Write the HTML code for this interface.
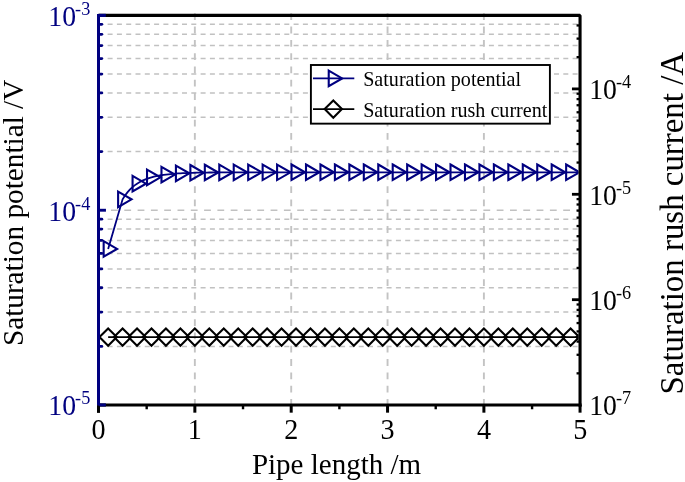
<!DOCTYPE html>
<html><head><meta charset="utf-8"><title>chart</title>
<style>html,body{margin:0;padding:0;background:#fff;}svg{display:block;will-change:transform;}text{font-family:"Liberation Serif",serif;}</style>
</head><body>
<svg width="685" height="482" viewBox="0 0 685 482">
<rect width="685" height="482" fill="#fff"/>
<g stroke="#c1c1c1" stroke-width="1.5" fill="none">
<line x1="98.3" x2="580.05" y1="151.58" y2="151.58" stroke-dasharray="5 4.3"/>
<line x1="98.3" x2="580.05" y1="117.28" y2="117.28" stroke-dasharray="5 4.3"/>
<line x1="98.3" x2="580.05" y1="92.93" y2="92.93" stroke-dasharray="5 4.3"/>
<line x1="98.3" x2="580.05" y1="74.05" y2="74.05" stroke-dasharray="5 4.3"/>
<line x1="98.3" x2="580.05" y1="58.62" y2="58.62" stroke-dasharray="5 4.3"/>
<line x1="98.3" x2="580.05" y1="45.58" y2="45.58" stroke-dasharray="5 4.3"/>
<line x1="98.3" x2="580.05" y1="34.28" y2="34.28" stroke-dasharray="5 4.3"/>
<line x1="98.3" x2="580.05" y1="24.32" y2="24.32" stroke-dasharray="5 4.3"/>
<line x1="98.3" x2="580.05" y1="346.42" y2="346.42" stroke-dasharray="5 4.3"/>
<line x1="98.3" x2="580.05" y1="312.11" y2="312.11" stroke-dasharray="5 4.3"/>
<line x1="98.3" x2="580.05" y1="287.77" y2="287.77" stroke-dasharray="5 4.3"/>
<line x1="98.3" x2="580.05" y1="268.89" y2="268.89" stroke-dasharray="5 4.3"/>
<line x1="98.3" x2="580.05" y1="253.46" y2="253.46" stroke-dasharray="5 4.3"/>
<line x1="98.3" x2="580.05" y1="240.42" y2="240.42" stroke-dasharray="5 4.3"/>
<line x1="98.3" x2="580.05" y1="229.12" y2="229.12" stroke-dasharray="5 4.3"/>
<line x1="98.3" x2="580.05" y1="219.15" y2="219.15" stroke-dasharray="5 4.3"/>
<line x1="97.7" x2="580.05" y1="210.24" y2="210.24" stroke-dasharray="6.8 6.5"/>
<line x1="194.85" x2="194.85" y1="13.3" y2="405.07" stroke-dasharray="6.8 6.5" stroke-width="1.9" stroke="#c3c3c3"/>
<line x1="291.20" x2="291.20" y1="13.3" y2="405.07" stroke-dasharray="6.8 6.5" stroke-width="1.9" stroke="#c3c3c3"/>
<line x1="387.55" x2="387.55" y1="13.3" y2="405.07" stroke-dasharray="6.8 6.5" stroke-width="1.9" stroke="#c3c3c3"/>
<line x1="483.90" x2="483.90" y1="13.3" y2="405.07" stroke-dasharray="6.8 6.5" stroke-width="1.9" stroke="#c3c3c3"/>
</g>
<clipPath id="c"><rect x="98.5" y="15.4" width="479.95" height="389.67"/></clipPath>
<g clip-path="url(#c)">
<polyline fill="none" stroke="#000080" stroke-width="1.8" points="108.14,248.90 122.59,199.35 125.00,195.56 127.41,192.37 129.81,189.66 132.22,187.35 134.63,185.37 137.04,183.67 139.45,182.20 141.86,180.93 144.27,179.83 146.68,178.88 149.08,178.05 151.49,177.33 153.90,176.70 156.31,176.15 158.72,175.67 161.13,175.25 163.54,174.88 165.95,174.56 168.35,174.28 170.76,174.04 173.17,173.82 175.58,173.63 177.99,173.47 180.40,173.32 182.81,173.20 185.22,173.08 187.62,172.99 190.03,172.90 192.44,172.83 194.85,172.76 197.26,172.70 199.67,172.65 202.08,172.61 204.49,172.57 206.89,172.53 209.30,172.50 211.71,172.48 214.12,172.45 216.53,172.43 218.94,172.41 221.35,172.40 223.75,172.38 226.16,172.37 228.57,172.36 230.98,172.35 233.39,172.34 235.80,172.34 238.21,172.33 240.62,172.32 243.02,172.32 245.43,172.31 247.84,172.31 250.25,172.31 252.66,172.30 255.07,172.30 257.48,172.30 259.89,172.30 262.29,172.30 264.70,172.29 267.11,172.29 269.52,172.29 271.93,172.29 274.34,172.29 276.75,172.29 279.16,172.29 281.56,172.29 283.97,172.29 286.38,172.29 288.79,172.29 291.20,172.29 293.61,172.29 296.02,172.28 298.43,172.28 300.83,172.28 303.24,172.28 305.65,172.28 308.06,172.28 310.47,172.28 312.88,172.28 315.29,172.28 317.70,172.28 320.10,172.28 322.51,172.28 324.92,172.28 327.33,172.28 329.74,172.28 332.15,172.28 334.56,172.28 336.97,172.28 339.37,172.28 341.78,172.28 344.19,172.28 346.60,172.28 349.01,172.28 351.42,172.28 353.83,172.28 356.24,172.28 358.64,172.28 361.05,172.28 363.46,172.28 365.87,172.28 368.28,172.28 370.69,172.28 373.10,172.28 375.51,172.28 377.91,172.28 380.32,172.28 382.73,172.28 385.14,172.28 387.55,172.28 389.96,172.28 392.37,172.28 394.78,172.28 397.18,172.28 399.59,172.28 402.00,172.28 404.41,172.28 406.82,172.28 409.23,172.28 411.64,172.28 414.05,172.28 416.45,172.28 418.86,172.28 421.27,172.28 423.68,172.28 426.09,172.28 428.50,172.28 430.91,172.28 433.32,172.28 435.72,172.28 438.13,172.28 440.54,172.28 442.95,172.28 445.36,172.28 447.77,172.28 450.18,172.28 452.59,172.28 454.99,172.28 457.40,172.28 459.81,172.28 462.22,172.28 464.63,172.28 467.04,172.28 469.45,172.28 471.86,172.28 474.26,172.28 476.67,172.28 479.08,172.28 481.49,172.28 483.90,172.28 486.31,172.28 488.72,172.28 491.13,172.28 493.53,172.28 495.94,172.28 498.35,172.28 500.76,172.28 503.17,172.28 505.58,172.28 507.99,172.28 510.40,172.28 512.80,172.28 515.21,172.28 517.62,172.28 520.03,172.28 522.44,172.28 524.85,172.28 527.26,172.28 529.67,172.28 532.07,172.28 534.48,172.28 536.89,172.28 539.30,172.28 541.71,172.28 544.12,172.28 546.53,172.28 548.94,172.28 551.35,172.28 553.75,172.28 556.16,172.28 558.57,172.28 560.98,172.28 563.39,172.28 565.80,172.28 568.21,172.28 570.62,172.28 573.02,172.28 575.43,172.28 577.84,172.28 580.25,172.28"/>
<path d="M103.66 241.15L117.08 248.90L103.66 256.65Z" fill="none" stroke="#000080" stroke-width="2.1" stroke-linejoin="miter"/>
<path d="M118.11 191.60L131.54 199.35L118.11 207.10Z" fill="none" stroke="#000080" stroke-width="2.1" stroke-linejoin="miter"/>
<path d="M132.57 175.92L145.99 183.67L132.57 191.42Z" fill="none" stroke="#000080" stroke-width="2.1" stroke-linejoin="miter"/>
<path d="M147.02 169.58L160.44 177.33L147.02 185.08Z" fill="none" stroke="#000080" stroke-width="2.1" stroke-linejoin="miter"/>
<path d="M161.47 166.81L174.89 174.56L161.47 182.31Z" fill="none" stroke="#000080" stroke-width="2.1" stroke-linejoin="miter"/>
<path d="M175.92 165.57L189.35 173.32L175.92 181.07Z" fill="none" stroke="#000080" stroke-width="2.1" stroke-linejoin="miter"/>
<path d="M190.38 165.01L203.80 172.76L190.38 180.51Z" fill="none" stroke="#000080" stroke-width="2.1" stroke-linejoin="miter"/>
<path d="M204.83 164.75L218.25 172.50L204.83 180.25Z" fill="none" stroke="#000080" stroke-width="2.1" stroke-linejoin="miter"/>
<path d="M219.28 164.63L232.70 172.38L219.28 180.13Z" fill="none" stroke="#000080" stroke-width="2.1" stroke-linejoin="miter"/>
<path d="M233.73 164.58L247.16 172.33L233.73 180.08Z" fill="none" stroke="#000080" stroke-width="2.1" stroke-linejoin="miter"/>
<path d="M248.19 164.55L261.61 172.30L248.19 180.05Z" fill="none" stroke="#000080" stroke-width="2.1" stroke-linejoin="miter"/>
<path d="M262.64 164.54L276.06 172.29L262.64 180.04Z" fill="none" stroke="#000080" stroke-width="2.1" stroke-linejoin="miter"/>
<path d="M277.09 164.54L290.51 172.29L277.09 180.04Z" fill="none" stroke="#000080" stroke-width="2.1" stroke-linejoin="miter"/>
<path d="M291.54 164.53L304.97 172.28L291.54 180.03Z" fill="none" stroke="#000080" stroke-width="2.1" stroke-linejoin="miter"/>
<path d="M306.00 164.53L319.42 172.28L306.00 180.03Z" fill="none" stroke="#000080" stroke-width="2.1" stroke-linejoin="miter"/>
<path d="M320.45 164.53L333.87 172.28L320.45 180.03Z" fill="none" stroke="#000080" stroke-width="2.1" stroke-linejoin="miter"/>
<path d="M334.90 164.53L348.32 172.28L334.90 180.03Z" fill="none" stroke="#000080" stroke-width="2.1" stroke-linejoin="miter"/>
<path d="M349.35 164.53L362.78 172.28L349.35 180.03Z" fill="none" stroke="#000080" stroke-width="2.1" stroke-linejoin="miter"/>
<path d="M363.81 164.53L377.23 172.28L363.81 180.03Z" fill="none" stroke="#000080" stroke-width="2.1" stroke-linejoin="miter"/>
<path d="M378.26 164.53L391.68 172.28L378.26 180.03Z" fill="none" stroke="#000080" stroke-width="2.1" stroke-linejoin="miter"/>
<path d="M392.71 164.53L406.13 172.28L392.71 180.03Z" fill="none" stroke="#000080" stroke-width="2.1" stroke-linejoin="miter"/>
<path d="M407.16 164.53L420.59 172.28L407.16 180.03Z" fill="none" stroke="#000080" stroke-width="2.1" stroke-linejoin="miter"/>
<path d="M421.62 164.53L435.04 172.28L421.62 180.03Z" fill="none" stroke="#000080" stroke-width="2.1" stroke-linejoin="miter"/>
<path d="M436.07 164.53L449.49 172.28L436.07 180.03Z" fill="none" stroke="#000080" stroke-width="2.1" stroke-linejoin="miter"/>
<path d="M450.52 164.53L463.94 172.28L450.52 180.03Z" fill="none" stroke="#000080" stroke-width="2.1" stroke-linejoin="miter"/>
<path d="M464.97 164.53L478.40 172.28L464.97 180.03Z" fill="none" stroke="#000080" stroke-width="2.1" stroke-linejoin="miter"/>
<path d="M479.43 164.53L492.85 172.28L479.43 180.03Z" fill="none" stroke="#000080" stroke-width="2.1" stroke-linejoin="miter"/>
<path d="M493.88 164.53L507.30 172.28L493.88 180.03Z" fill="none" stroke="#000080" stroke-width="2.1" stroke-linejoin="miter"/>
<path d="M508.33 164.53L521.75 172.28L508.33 180.03Z" fill="none" stroke="#000080" stroke-width="2.1" stroke-linejoin="miter"/>
<path d="M522.78 164.53L536.21 172.28L522.78 180.03Z" fill="none" stroke="#000080" stroke-width="2.1" stroke-linejoin="miter"/>
<path d="M537.24 164.53L550.66 172.28L537.24 180.03Z" fill="none" stroke="#000080" stroke-width="2.1" stroke-linejoin="miter"/>
<path d="M551.69 164.53L565.11 172.28L551.69 180.03Z" fill="none" stroke="#000080" stroke-width="2.1" stroke-linejoin="miter"/>
<path d="M566.14 164.53L579.56 172.28L566.14 180.03Z" fill="none" stroke="#000080" stroke-width="2.1" stroke-linejoin="miter"/>
<line x1="108.14" x2="580.05" y1="337.1" y2="337.1" stroke="#000" stroke-width="1.9"/>
<path d="M99.48 337.10L108.14 328.45L116.79 337.10L108.14 345.75Z" fill="none" stroke="#000" stroke-width="2.1" stroke-linejoin="miter"/>
<path d="M113.94 337.10L122.59 328.45L131.24 337.10L122.59 345.75Z" fill="none" stroke="#000" stroke-width="2.1" stroke-linejoin="miter"/>
<path d="M128.39 337.10L137.04 328.45L145.69 337.10L137.04 345.75Z" fill="none" stroke="#000" stroke-width="2.1" stroke-linejoin="miter"/>
<path d="M142.84 337.10L151.49 328.45L160.14 337.10L151.49 345.75Z" fill="none" stroke="#000" stroke-width="2.1" stroke-linejoin="miter"/>
<path d="M157.29 337.10L165.94 328.45L174.59 337.10L165.94 345.75Z" fill="none" stroke="#000" stroke-width="2.1" stroke-linejoin="miter"/>
<path d="M171.75 337.10L180.40 328.45L189.05 337.10L180.40 345.75Z" fill="none" stroke="#000" stroke-width="2.1" stroke-linejoin="miter"/>
<path d="M186.20 337.10L194.85 328.45L203.50 337.10L194.85 345.75Z" fill="none" stroke="#000" stroke-width="2.1" stroke-linejoin="miter"/>
<path d="M200.65 337.10L209.30 328.45L217.95 337.10L209.30 345.75Z" fill="none" stroke="#000" stroke-width="2.1" stroke-linejoin="miter"/>
<path d="M215.10 337.10L223.75 328.45L232.41 337.10L223.75 345.75Z" fill="none" stroke="#000" stroke-width="2.1" stroke-linejoin="miter"/>
<path d="M229.56 337.10L238.21 328.45L246.86 337.10L238.21 345.75Z" fill="none" stroke="#000" stroke-width="2.1" stroke-linejoin="miter"/>
<path d="M244.01 337.10L252.66 328.45L261.31 337.10L252.66 345.75Z" fill="none" stroke="#000" stroke-width="2.1" stroke-linejoin="miter"/>
<path d="M258.46 337.10L267.11 328.45L275.76 337.10L267.11 345.75Z" fill="none" stroke="#000" stroke-width="2.1" stroke-linejoin="miter"/>
<path d="M272.91 337.10L281.56 328.45L290.21 337.10L281.56 345.75Z" fill="none" stroke="#000" stroke-width="2.1" stroke-linejoin="miter"/>
<path d="M287.37 337.10L296.02 328.45L304.67 337.10L296.02 345.75Z" fill="none" stroke="#000" stroke-width="2.1" stroke-linejoin="miter"/>
<path d="M301.82 337.10L310.47 328.45L319.12 337.10L310.47 345.75Z" fill="none" stroke="#000" stroke-width="2.1" stroke-linejoin="miter"/>
<path d="M316.27 337.10L324.92 328.45L333.57 337.10L324.92 345.75Z" fill="none" stroke="#000" stroke-width="2.1" stroke-linejoin="miter"/>
<path d="M330.73 337.10L339.38 328.45L348.02 337.10L339.38 345.75Z" fill="none" stroke="#000" stroke-width="2.1" stroke-linejoin="miter"/>
<path d="M345.18 337.10L353.83 328.45L362.48 337.10L353.83 345.75Z" fill="none" stroke="#000" stroke-width="2.1" stroke-linejoin="miter"/>
<path d="M359.63 337.10L368.28 328.45L376.93 337.10L368.28 345.75Z" fill="none" stroke="#000" stroke-width="2.1" stroke-linejoin="miter"/>
<path d="M374.08 337.10L382.73 328.45L391.38 337.10L382.73 345.75Z" fill="none" stroke="#000" stroke-width="2.1" stroke-linejoin="miter"/>
<path d="M388.54 337.10L397.19 328.45L405.83 337.10L397.19 345.75Z" fill="none" stroke="#000" stroke-width="2.1" stroke-linejoin="miter"/>
<path d="M402.99 337.10L411.64 328.45L420.29 337.10L411.64 345.75Z" fill="none" stroke="#000" stroke-width="2.1" stroke-linejoin="miter"/>
<path d="M417.44 337.10L426.09 328.45L434.74 337.10L426.09 345.75Z" fill="none" stroke="#000" stroke-width="2.1" stroke-linejoin="miter"/>
<path d="M431.89 337.10L440.54 328.45L449.19 337.10L440.54 345.75Z" fill="none" stroke="#000" stroke-width="2.1" stroke-linejoin="miter"/>
<path d="M446.34 337.10L454.99 328.45L463.64 337.10L454.99 345.75Z" fill="none" stroke="#000" stroke-width="2.1" stroke-linejoin="miter"/>
<path d="M460.80 337.10L469.45 328.45L478.10 337.10L469.45 345.75Z" fill="none" stroke="#000" stroke-width="2.1" stroke-linejoin="miter"/>
<path d="M475.25 337.10L483.90 328.45L492.55 337.10L483.90 345.75Z" fill="none" stroke="#000" stroke-width="2.1" stroke-linejoin="miter"/>
<path d="M489.70 337.10L498.35 328.45L507.00 337.10L498.35 345.75Z" fill="none" stroke="#000" stroke-width="2.1" stroke-linejoin="miter"/>
<path d="M504.15 337.10L512.80 328.45L521.45 337.10L512.80 345.75Z" fill="none" stroke="#000" stroke-width="2.1" stroke-linejoin="miter"/>
<path d="M518.61 337.10L527.26 328.45L535.91 337.10L527.26 345.75Z" fill="none" stroke="#000" stroke-width="2.1" stroke-linejoin="miter"/>
<path d="M533.06 337.10L541.71 328.45L550.36 337.10L541.71 345.75Z" fill="none" stroke="#000" stroke-width="2.1" stroke-linejoin="miter"/>
<path d="M547.51 337.10L556.16 328.45L564.81 337.10L556.16 345.75Z" fill="none" stroke="#000" stroke-width="2.1" stroke-linejoin="miter"/>
<path d="M561.96 337.10L570.61 328.45L579.26 337.10L570.61 345.75Z" fill="none" stroke="#000" stroke-width="2.1" stroke-linejoin="miter"/>
<path d="M576.42 337.10L585.07 328.45L593.72 337.10L585.07 345.75Z" fill="none" stroke="#000" stroke-width="2.1" stroke-linejoin="miter"/>
</g>
<g stroke="#000080" stroke-width="2.8" stroke-linecap="round">
<line x1="98.5" x2="101.80" y1="151.58" y2="151.58"/>
<line x1="98.5" x2="101.80" y1="117.28" y2="117.28"/>
<line x1="98.5" x2="101.80" y1="92.93" y2="92.93"/>
<line x1="98.5" x2="101.80" y1="74.05" y2="74.05"/>
<line x1="98.5" x2="101.80" y1="58.62" y2="58.62"/>
<line x1="98.5" x2="101.80" y1="45.58" y2="45.58"/>
<line x1="98.5" x2="101.80" y1="34.28" y2="34.28"/>
<line x1="98.5" x2="101.80" y1="24.32" y2="24.32"/>
<line x1="98.5" x2="101.80" y1="346.42" y2="346.42"/>
<line x1="98.5" x2="101.80" y1="312.11" y2="312.11"/>
<line x1="98.5" x2="101.80" y1="287.77" y2="287.77"/>
<line x1="98.5" x2="101.80" y1="268.89" y2="268.89"/>
<line x1="98.5" x2="101.80" y1="253.46" y2="253.46"/>
<line x1="98.5" x2="101.80" y1="240.42" y2="240.42"/>
<line x1="98.5" x2="101.80" y1="229.12" y2="229.12"/>
<line x1="98.5" x2="101.80" y1="219.15" y2="219.15"/>
<line x1="98.5" x2="105.95" y1="15.40" y2="15.40" stroke-width="2.9" stroke-linecap="butt"/>
<line x1="98.5" x2="105.95" y1="210.24" y2="210.24" stroke-width="2.9" stroke-linecap="butt"/>
<line x1="98.5" x2="105.95" y1="405.07" y2="405.07" stroke-width="2.9" stroke-linecap="butt"/>
</g>
<g stroke="#000" stroke-width="2.3">
<line x1="580.05" x2="576.55" y1="373.34" y2="373.34"/>
<line x1="580.05" x2="576.55" y1="354.79" y2="354.79"/>
<line x1="580.05" x2="576.55" y1="341.62" y2="341.62"/>
<line x1="580.05" x2="576.55" y1="331.41" y2="331.41"/>
<line x1="580.05" x2="576.55" y1="323.06" y2="323.06"/>
<line x1="580.05" x2="576.55" y1="316.01" y2="316.01"/>
<line x1="580.05" x2="576.55" y1="309.89" y2="309.89"/>
<line x1="580.05" x2="576.55" y1="304.50" y2="304.50"/>
<line x1="580.05" x2="576.55" y1="267.95" y2="267.95"/>
<line x1="580.05" x2="576.55" y1="249.40" y2="249.40"/>
<line x1="580.05" x2="576.55" y1="236.23" y2="236.23"/>
<line x1="580.05" x2="576.55" y1="226.02" y2="226.02"/>
<line x1="580.05" x2="576.55" y1="217.67" y2="217.67"/>
<line x1="580.05" x2="576.55" y1="210.62" y2="210.62"/>
<line x1="580.05" x2="576.55" y1="204.50" y2="204.50"/>
<line x1="580.05" x2="576.55" y1="199.11" y2="199.11"/>
<line x1="580.05" x2="576.55" y1="162.56" y2="162.56"/>
<line x1="580.05" x2="576.55" y1="144.01" y2="144.01"/>
<line x1="580.05" x2="576.55" y1="130.84" y2="130.84"/>
<line x1="580.05" x2="576.55" y1="120.63" y2="120.63"/>
<line x1="580.05" x2="576.55" y1="112.28" y2="112.28"/>
<line x1="580.05" x2="576.55" y1="105.23" y2="105.23"/>
<line x1="580.05" x2="576.55" y1="99.11" y2="99.11"/>
<line x1="580.05" x2="576.55" y1="93.72" y2="93.72"/>
<line x1="580.05" x2="576.55" y1="57.17" y2="57.17"/>
<line x1="580.05" x2="576.55" y1="38.62" y2="38.62"/>
<line x1="580.05" x2="576.55" y1="25.45" y2="25.45"/>
<line x1="580.05" x2="571.95" y1="299.68" y2="299.68" stroke-width="2.8"/>
<line x1="580.05" x2="571.95" y1="194.29" y2="194.29" stroke-width="2.8"/>
<line x1="580.05" x2="571.95" y1="88.90" y2="88.90" stroke-width="2.8"/>
</g>
<g stroke="#000" stroke-width="3">
<line x1="98.50" x2="98.50" y1="405.07" y2="412.67"/>
<line x1="194.85" x2="194.85" y1="405.07" y2="412.67"/>
<line x1="291.20" x2="291.20" y1="405.07" y2="412.67"/>
<line x1="387.55" x2="387.55" y1="405.07" y2="412.67"/>
<line x1="483.90" x2="483.90" y1="405.07" y2="412.67"/>
<line x1="580.05" x2="580.05" y1="405.07" y2="412.67"/>
</g><g stroke="#000" stroke-width="2.4">
<line x1="146.68" x2="146.68" y1="405.07" y2="409.27"/>
<line x1="243.02" x2="243.02" y1="405.07" y2="409.27"/>
<line x1="339.38" x2="339.38" y1="405.07" y2="409.27"/>
<line x1="435.72" x2="435.72" y1="405.07" y2="409.27"/>
<line x1="532.08" x2="532.08" y1="405.07" y2="409.27"/>
</g>
<path d="M98.5 15.4L580.05 15.4L580.05 406.62" fill="none" stroke="#000" stroke-width="3.1" stroke-linejoin="bevel"/>
<line x1="98.5" x2="581.5999999999999" y1="405.07" y2="405.07" stroke="#000" stroke-width="3.1"/>
<line x1="98.5" x2="98.5" y1="14.049999999999999" y2="405.17" stroke="#000080" stroke-width="3.0"/>
<line x1="98.5" x2="105.8" y1="15.4" y2="15.4" stroke="#000080" stroke-width="3.1"/>
<line x1="98.5" x2="105.8" y1="404.87" y2="404.87" stroke="#000080" stroke-width="2.7"/>
<line x1="98.5" x2="98.5" y1="406.46999999999997" y2="412.67" stroke="#000" stroke-width="3"/>
<text transform="translate(48.35 25.70) scale(0.965 1)" font-size="28.7" fill="#000080">10<tspan font-size="18.9" dy="-10.9" dx="-1">-3</tspan></text>
<text transform="translate(48.35 220.54) scale(0.965 1)" font-size="28.7" fill="#000080">10<tspan font-size="18.9" dy="-10.9" dx="-1">-4</tspan></text>
<text transform="translate(48.35 415.37) scale(0.965 1)" font-size="28.7" fill="#000080">10<tspan font-size="18.9" dy="-10.9" dx="-1">-5</tspan></text>
<text transform="translate(589.2 99.20) scale(0.965 1)" font-size="28.7" fill="#000">10<tspan font-size="18.9" dy="-10.9" dx="-1">-4</tspan></text>
<text transform="translate(589.2 204.59) scale(0.965 1)" font-size="28.7" fill="#000">10<tspan font-size="18.9" dy="-10.9" dx="-1">-5</tspan></text>
<text transform="translate(589.2 309.98) scale(0.965 1)" font-size="28.7" fill="#000">10<tspan font-size="18.9" dy="-10.9" dx="-1">-6</tspan></text>
<text transform="translate(589.2 415.37) scale(0.965 1)" font-size="28.7" fill="#000">10<tspan font-size="18.9" dy="-10.9" dx="-1">-7</tspan></text>
<text transform="translate(98.50 439.4) scale(0.96 1)" font-size="29.3" text-anchor="middle" fill="#000">0</text>
<text transform="translate(194.85 439.4) scale(0.96 1)" font-size="29.3" text-anchor="middle" fill="#000">1</text>
<text transform="translate(291.20 439.4) scale(0.96 1)" font-size="29.3" text-anchor="middle" fill="#000">2</text>
<text transform="translate(387.55 439.4) scale(0.96 1)" font-size="29.3" text-anchor="middle" fill="#000">3</text>
<text transform="translate(483.90 439.4) scale(0.96 1)" font-size="29.3" text-anchor="middle" fill="#000">4</text>
<text transform="translate(580.25 439.4) scale(0.96 1)" font-size="29.3" text-anchor="middle" fill="#000">5</text>
<text x="336.5" y="473.7" font-size="29" text-anchor="middle" fill="#000">Pipe length /m</text>
<text transform="translate(22.9 212.9) rotate(-90)" font-size="29.25" text-anchor="middle" fill="#000">Saturation potential /V</text>
<text transform="translate(682.5 223.2) rotate(-90)" font-size="32.9" text-anchor="middle" fill="#000">Saturation rush current /A</text>
<rect x="310.9" y="65.0" width="239" height="58.65" fill="#fff" stroke="#000" stroke-width="1.9"/>
<line x1="313" x2="354.3" y1="78.4" y2="78.4" stroke="#000080" stroke-width="1.6"/>
<path d="M328.73 70.65L342.15 78.40L328.73 86.15Z" fill="none" stroke="#000080" stroke-width="2.1" stroke-linejoin="miter"/>
<line x1="313" x2="354.3" y1="109.1" y2="109.1" stroke="#000" stroke-width="1.6"/>
<path d="M324.65 109.10L333.30 100.45L341.95 109.10L333.30 117.75Z" fill="none" stroke="#000" stroke-width="2.1" stroke-linejoin="miter"/>
<text x="363.2" y="85.9" font-size="20.1" fill="#000">Saturation potential</text>
<text x="363.2" y="116.9" font-size="20.1" fill="#000">Saturation rush current</text>
</svg></body></html>
